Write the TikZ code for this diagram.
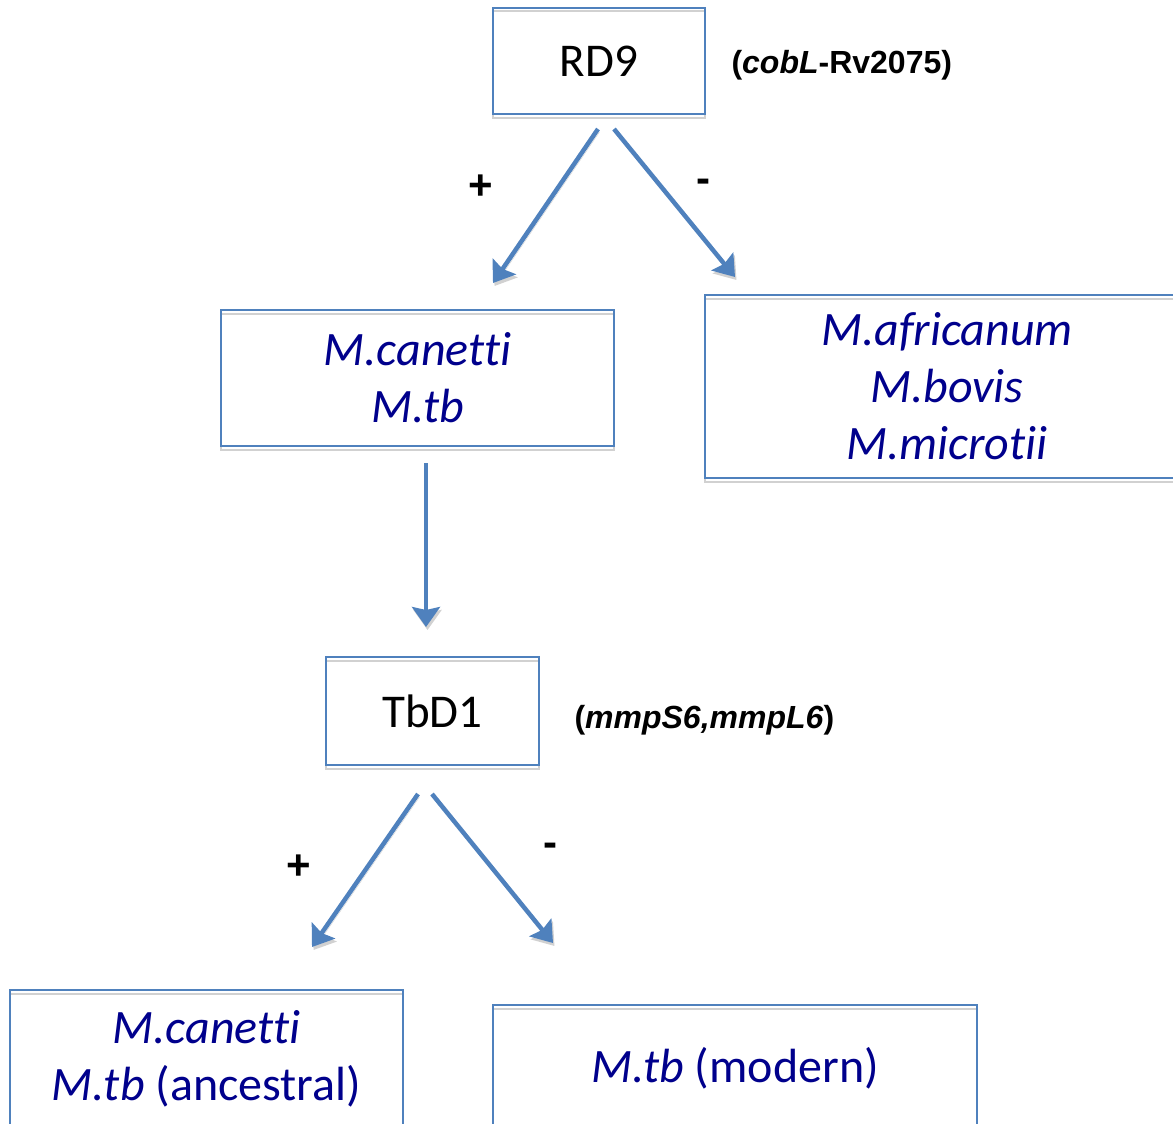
\documentclass[tikz,border=0pt]{standalone}
\usepackage{fontspec}
\setmainfont[Ligatures=NoCommon]{Carlito}
\newfontfamily\arial{Liberation Sans}
\usetikzlibrary{arrows.meta}
\definecolor{bblue}{RGB}{79,129,189}
\definecolor{tblue}{RGB}{0,0,140}
\begin{document}
\begin{tikzpicture}[x=1pt,y=-1pt,
 box/.style={draw=bblue, line width=2pt, inner sep=0pt, align=center,
   preaction={draw=black!18, line width=2pt, transform canvas={yshift=-3.5pt}}},
 sp/.style={font=\fontsize{48}{57}\selectfont\itshape, text=tblue},
 gene/.style={font=\fontsize{47}{56}\selectfont},
 conn/.style={draw=bblue, line width=4.5pt, -{Stealth[length=20pt,width=28pt,inset=3pt]},
   preaction={draw=black!18, transform canvas={xshift=1.5pt,yshift=-3pt}}},
 lab/.style={font=\arial\bfseries\fontsize{32}{38}\selectfont},
 sign/.style={font=\arial\bfseries\fontsize{42}{48}\selectfont},
 ]
\useasboundingbox (0,0) rectangle (1173,1124);
\node[box, gene, minimum width=212pt, minimum height=106pt] (rd9) at (599,61) {RD9};
\node[box, sp, minimum width=393pt, minimum height=136pt] (canmtb) at (417.5,378) {M.canetti\\M.tb};
\node[box, sp, minimum width=484pt, minimum height=183pt] (afr) at (947,386.5) {M.africanum\\M.bovis\\M.microtii};
\node[box, gene, minimum width=213pt, minimum height=108pt] (tbd1) at (432.5,711) {TbD1};
\node[box, sp, minimum width=393pt, minimum height=138pt] (anc) at (206.5,1059) {M.canetti\\M.tb {\upshape (ancestral)}};
\node[box, sp, minimum width=484pt, minimum height=126pt] (mod) at (735,1068) {M.tb {\upshape (modern)}};
\node[lab, anchor=west] (rd9lab) at (728,65) {(\textit{cobL}-Rv2075)};
\node[lab, anchor=west] (tbdlab) at (571,720) {(\textit{mmpS6,mmpL6})};
\node[sign] (p1) at (481,187) {+};
\node[sign] (m1) at (703,186) {-};
\node[sign] (p2) at (299,867) {+};
\node[sign] (m2) at (550,850) {-};
\draw[conn] ([xshift=-1pt,yshift=-14pt]rd9.south) -- ([xshift=75.5pt,yshift=26pt]canmtb.north);
\draw[conn] ([xshift=15pt,yshift=-14pt]rd9.south) -- ([xshift=-212pt,yshift=17pt]afr.north);
\draw[conn] ([xshift=8.5pt,yshift=-16pt]canmtb.south) -- ([xshift=-6.5pt,yshift=29pt]tbd1.north);
\draw[conn] ([xshift=-14.5pt,yshift=-28pt]tbd1.south) -- ([xshift=105.5pt,yshift=42pt]anc.north);
\draw[conn] ([xshift=-0.5pt,yshift=-28pt]tbd1.south) -- ([xshift=-182pt,yshift=61pt]mod.north);
\end{tikzpicture}
\end{document}
